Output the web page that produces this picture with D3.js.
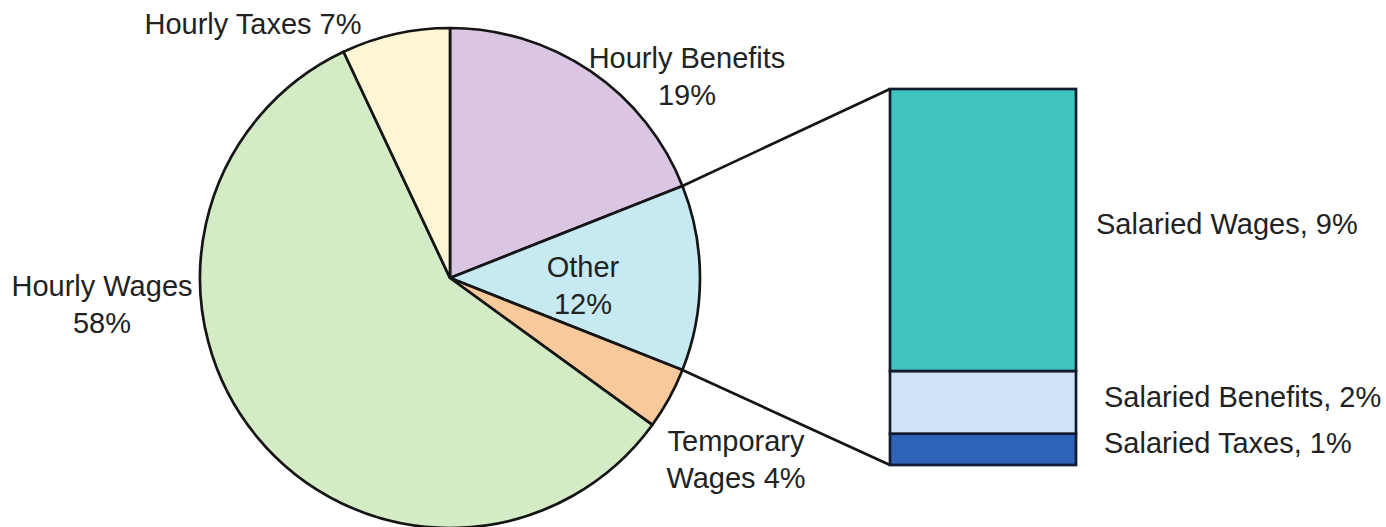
<!DOCTYPE html>
<html>
<head>
<meta charset="utf-8">
<script src="https://cdn.jsdelivr.net/npm/d3@7"></script>
<style>
  body { margin: 0; background: #fff; }
  text { font-family: "Liberation Sans", Arial, sans-serif; fill: #222; }
</style>
</head>
<body>
<div id="chart"></div>
<script>
// pie slices, clockwise from 12 o'clock
const pieNames = ["Hourly Benefits", "Other", "Temporary Wages", "Hourly Wages", "Hourly Taxes"];
const pieValues = [19, 12, 4, 58, 7];
const pieLabels = [["Hourly Benefits", "19%"], ["Other", "12%"], ["Temporary", "Wages 4%"], ["Hourly Wages", "58%"], ["Hourly Taxes 7%"]];

// breakdown of "Other", stacked bottom to top
const barNames = ["Salaried Taxes", "Salaried Benefits", "Salaried Wages"];
const barValues = [1, 2, 9];
const barLabels = ["Salaried Taxes, 1%", "Salaried Benefits, 2%", "Salaried Wages, 9%"];

const width = 1386, height = 527;
const pieColors = ["#dac5e2", "#c7e9f1", "#f8c99b", "#d3ecc6", "#fdf5d3"];
const barColors = ["#2f63b7", "#d0e3f6", "#3fc4bf"];

// label anchor spots (layout only)
const pieLabelPos = [[687, 68], [583, 277], [736, 451], [102, 296], [253, 34]];
const barLabelX = [1104, 1104, 1096];
const barLabelY = [453, 407, 234];

const cx = 450, cy = 278, radius = 250;

const svg = d3.select("#chart")
  .append("svg")
  .attr("width", width)
  .attr("height", height);

const pie = d3.pie().sort(null).value(d => d)(pieValues);
const arc = d3.arc().innerRadius(0).outerRadius(radius);

const g = svg.append("g").attr("transform", `translate(${cx},${cy})`);

g.selectAll("path")
  .data(pie)
  .enter()
  .append("path")
    .attr("d", arc)
    .attr("fill", (d, i) => pieColors[i])
    .attr("stroke", "#151515")
    .attr("stroke-width", 2.7)
    .attr("stroke-linejoin", "round");

// bar for the "Other" slice
const total = d3.sum(barValues);
const yBar = d3.scaleLinear().domain([0, total]).range([465, 89]);
const xBar = d3.scaleBand().domain(["Other"]).range([890, 1076]).padding(0);

const stacked = [];
let acc = 0;
barValues.forEach((v, i) => { stacked.push({ name: barNames[i], y0: acc, y1: acc + v }); acc += v; });

// connector lines from the Other slice to the bar corners
const other = pie[1];
const edgePt = a => [cx + radius * Math.sin(a), cy - radius * Math.cos(a)];
const p1 = edgePt(other.startAngle), p2 = edgePt(other.endAngle);
svg.append("line")
  .attr("x1", p1[0]).attr("y1", p1[1])
  .attr("x2", xBar("Other")).attr("y2", yBar(total))
  .attr("stroke", "#151515").attr("stroke-width", 2.7);
svg.append("line")
  .attr("x1", p2[0]).attr("y1", p2[1])
  .attr("x2", xBar("Other")).attr("y2", yBar(0))
  .attr("stroke", "#151515").attr("stroke-width", 2.7);

svg.selectAll("rect.seg")
  .data(stacked)
  .enter()
  .append("rect")
    .attr("class", "seg")
    .attr("x", xBar("Other"))
    .attr("y", d => yBar(d.y1))
    .attr("width", xBar.bandwidth())
    .attr("height", d => yBar(d.y0) - yBar(d.y1))
    .attr("fill", (d, i) => barColors[i])
    .attr("stroke", "#111a2e")
    .attr("stroke-width", 2.7);

// pie labels
pieLabels.forEach((lines, i) => {
  const t = svg.append("text")
    .attr("x", pieLabelPos[i][0])
    .attr("y", pieLabelPos[i][1])
    .attr("text-anchor", "middle")
    .attr("font-size", "29px");
  lines.forEach((s, j) => {
    t.append("tspan")
      .attr("x", pieLabelPos[i][0])
      .attr("dy", j === 0 ? 0 : 37)
      .text(s);
  });
});

// bar labels
barLabels.forEach((s, i) => {
  svg.append("text")
    .attr("x", barLabelX[i])
    .attr("y", barLabelY[i])
    .attr("font-size", "29px")
    .text(s);
});
</script>
</body>
</html>
